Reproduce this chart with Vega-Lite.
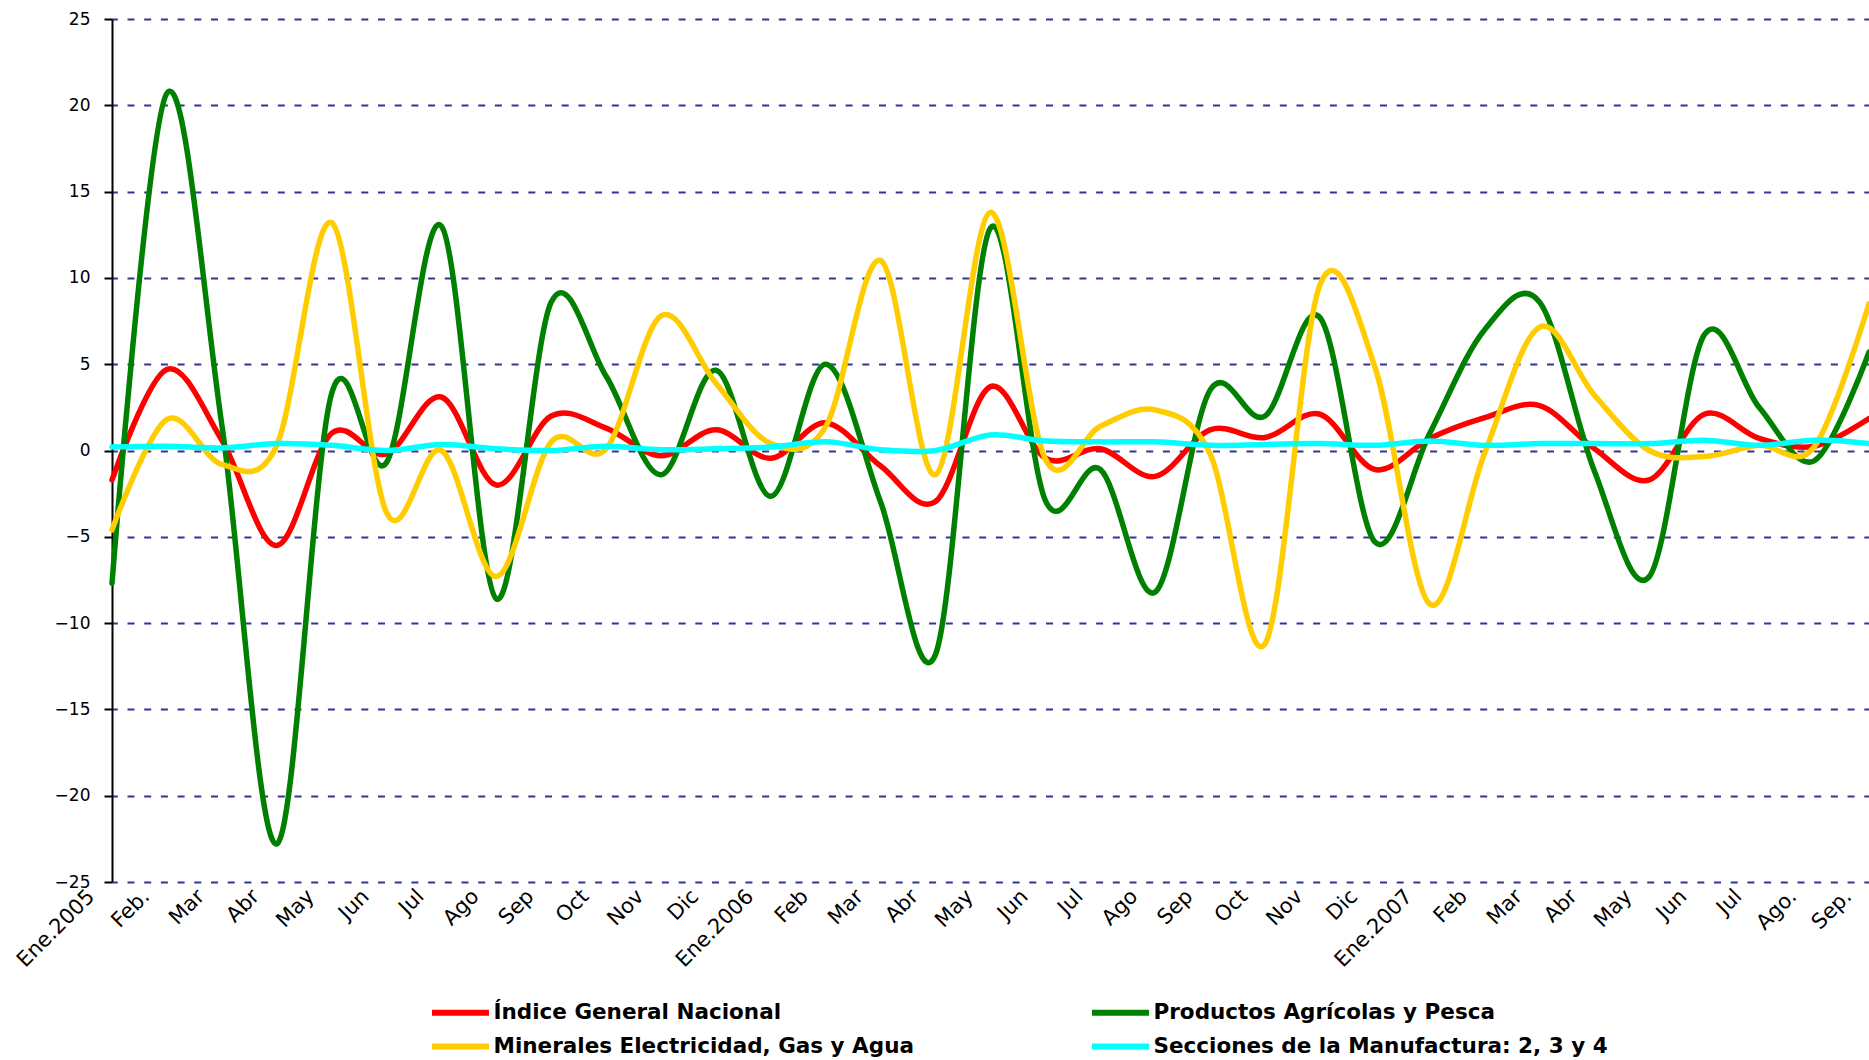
{
 "$schema": "https://vega.github.io/schema/vega-lite/v6.json",
 "width": 1757,
 "height": 863,
 "autosize": {"type": "none"},
 "padding": {"left": 112, "top": 19, "right": 0, "bottom": 178},
 "background": "white",
 "config": {"view": {"stroke": null}, "font": "DejaVu Sans"},
 "data": {"values": [
  {"mes":"Ene.2005","serie":"Índice General Nacional","valor":-1.7},
  {"mes":"Feb. 2005","serie":"Índice General Nacional","valor":4.7},
  {"mes":"Mar 2005","serie":"Índice General Nacional","valor":0.6},
  {"mes":"Abr 2005","serie":"Índice General Nacional","valor":-5.5},
  {"mes":"May 2005","serie":"Índice General Nacional","valor":1.0},
  {"mes":"Jun 2005","serie":"Índice General Nacional","valor":-0.2},
  {"mes":"Jul 2005","serie":"Índice General Nacional","valor":3.1},
  {"mes":"Ago 2005","serie":"Índice General Nacional","valor":-2.0},
  {"mes":"Sep 2005","serie":"Índice General Nacional","valor":2.0},
  {"mes":"Oct 2005","serie":"Índice General Nacional","valor":1.3},
  {"mes":"Nov 2005","serie":"Índice General Nacional","valor":-0.3},
  {"mes":"Dic 2005","serie":"Índice General Nacional","valor":1.2},
  {"mes":"Ene.2006","serie":"Índice General Nacional","valor":-0.45},
  {"mes":"Feb 2006","serie":"Índice General Nacional","valor":1.6},
  {"mes":"Mar 2006","serie":"Índice General Nacional","valor":-0.9},
  {"mes":"Abr 2006","serie":"Índice General Nacional","valor":-2.95},
  {"mes":"May 2006","serie":"Índice General Nacional","valor":3.7},
  {"mes":"Jun 2006","serie":"Índice General Nacional","valor":-0.45},
  {"mes":"Jul 2006","serie":"Índice General Nacional","valor":0.1},
  {"mes":"Ago 2006","serie":"Índice General Nacional","valor":-1.5},
  {"mes":"Sep 2006","serie":"Índice General Nacional","valor":1.2},
  {"mes":"Oct 2006","serie":"Índice General Nacional","valor":0.75},
  {"mes":"Nov 2006","serie":"Índice General Nacional","valor":2.1},
  {"mes":"Dic 2006","serie":"Índice General Nacional","valor":-1.1},
  {"mes":"Ene.2007","serie":"Índice General Nacional","valor":0.7},
  {"mes":"Feb 2007","serie":"Índice General Nacional","valor":1.9},
  {"mes":"Mar 2007","serie":"Índice General Nacional","valor":2.6},
  {"mes":"Abr 2007","serie":"Índice General Nacional","valor":0.1},
  {"mes":"May 2007","serie":"Índice General Nacional","valor":-1.7},
  {"mes":"Jun 2007","serie":"Índice General Nacional","valor":2.1},
  {"mes":"Jul 2007","serie":"Índice General Nacional","valor":0.7},
  {"mes":"Ago. 2007","serie":"Índice General Nacional","valor":0.25},
  {"mes":"Sep. 2007","serie":"Índice General Nacional","valor":1.85},
  {"mes":"Ene.2005","serie":"Productos Agrícolas y Pesca","valor":-7.7},
  {"mes":"Feb. 2005","serie":"Productos Agrícolas y Pesca","valor":20.7},
  {"mes":"Mar 2005","serie":"Productos Agrícolas y Pesca","valor":1.5},
  {"mes":"Abr 2005","serie":"Productos Agrícolas y Pesca","valor":-22.8},
  {"mes":"May 2005","serie":"Productos Agrícolas y Pesca","valor":3.3},
  {"mes":"Jun 2005","serie":"Productos Agrícolas y Pesca","valor":-0.7},
  {"mes":"Jul 2005","serie":"Productos Agrícolas y Pesca","valor":13.0},
  {"mes":"Ago 2005","serie":"Productos Agrícolas y Pesca","valor":-8.6},
  {"mes":"Sep 2005","serie":"Productos Agrícolas y Pesca","valor":8.6},
  {"mes":"Oct 2005","serie":"Productos Agrícolas y Pesca","valor":4.3},
  {"mes":"Nov 2005","serie":"Productos Agrícolas y Pesca","valor":-1.4},
  {"mes":"Dic 2005","serie":"Productos Agrícolas y Pesca","valor":4.65},
  {"mes":"Ene.2006","serie":"Productos Agrícolas y Pesca","valor":-2.65},
  {"mes":"Feb 2006","serie":"Productos Agrícolas y Pesca","valor":5.0},
  {"mes":"Mar 2006","serie":"Productos Agrícolas y Pesca","valor":-3.0},
  {"mes":"Abr 2006","serie":"Productos Agrícolas y Pesca","valor":-11.8},
  {"mes":"May 2006","serie":"Productos Agrícolas y Pesca","valor":12.9},
  {"mes":"Jun 2006","serie":"Productos Agrícolas y Pesca","valor":-2.9},
  {"mes":"Jul 2006","serie":"Productos Agrícolas y Pesca","valor":-1.1},
  {"mes":"Ago 2006","serie":"Productos Agrícolas y Pesca","valor":-8.2},
  {"mes":"Sep 2006","serie":"Productos Agrícolas y Pesca","valor":3.5},
  {"mes":"Oct 2006","serie":"Productos Agrícolas y Pesca","valor":2.0},
  {"mes":"Nov 2006","serie":"Productos Agrícolas y Pesca","valor":7.7},
  {"mes":"Dic 2006","serie":"Productos Agrícolas y Pesca","valor":-5.3},
  {"mes":"Ene.2007","serie":"Productos Agrícolas y Pesca","valor":1.0},
  {"mes":"Feb 2007","serie":"Productos Agrícolas y Pesca","valor":7.0},
  {"mes":"Mar 2007","serie":"Productos Agrícolas y Pesca","valor":8.6},
  {"mes":"Abr 2007","serie":"Productos Agrícolas y Pesca","valor":-1.2},
  {"mes":"May 2007","serie":"Productos Agrícolas y Pesca","valor":-7.3},
  {"mes":"Jun 2007","serie":"Productos Agrícolas y Pesca","valor":6.7},
  {"mes":"Jul 2007","serie":"Productos Agrícolas y Pesca","valor":2.5},
  {"mes":"Ago. 2007","serie":"Productos Agrícolas y Pesca","valor":-0.6},
  {"mes":"Sep. 2007","serie":"Productos Agrícolas y Pesca","valor":5.7},
  {"mes":"Ene.2005","serie":"Minerales Electricidad, Gas y Agua","valor":-4.6},
  {"mes":"Feb. 2005","serie":"Minerales Electricidad, Gas y Agua","valor":1.8},
  {"mes":"Mar 2005","serie":"Minerales Electricidad, Gas y Agua","valor":-0.8},
  {"mes":"Abr 2005","serie":"Minerales Electricidad, Gas y Agua","valor":0.3},
  {"mes":"May 2005","serie":"Minerales Electricidad, Gas y Agua","valor":13.2},
  {"mes":"Jun 2005","serie":"Minerales Electricidad, Gas y Agua","valor":-3.6},
  {"mes":"Jul 2005","serie":"Minerales Electricidad, Gas y Agua","valor":0.0},
  {"mes":"Ago 2005","serie":"Minerales Electricidad, Gas y Agua","valor":-7.3},
  {"mes":"Sep 2005","serie":"Minerales Electricidad, Gas y Agua","valor":0.5},
  {"mes":"Oct 2005","serie":"Minerales Electricidad, Gas y Agua","valor":0.1},
  {"mes":"Nov 2005","serie":"Minerales Electricidad, Gas y Agua","valor":7.8},
  {"mes":"Dic 2005","serie":"Minerales Electricidad, Gas y Agua","valor":3.9},
  {"mes":"Ene.2006","serie":"Minerales Electricidad, Gas y Agua","valor":0.4},
  {"mes":"Feb 2006","serie":"Minerales Electricidad, Gas y Agua","valor":1.4},
  {"mes":"Mar 2006","serie":"Minerales Electricidad, Gas y Agua","valor":11.0},
  {"mes":"Abr 2006","serie":"Minerales Electricidad, Gas y Agua","valor":-1.4},
  {"mes":"May 2006","serie":"Minerales Electricidad, Gas y Agua","valor":13.8},
  {"mes":"Jun 2006","serie":"Minerales Electricidad, Gas y Agua","valor":-0.5},
  {"mes":"Jul 2006","serie":"Minerales Electricidad, Gas y Agua","valor":1.4},
  {"mes":"Ago 2006","serie":"Minerales Electricidad, Gas y Agua","valor":2.35},
  {"mes":"Sep 2006","serie":"Minerales Electricidad, Gas y Agua","valor":-0.2},
  {"mes":"Oct 2006","serie":"Minerales Electricidad, Gas y Agua","valor":-11.2},
  {"mes":"Nov 2006","serie":"Minerales Electricidad, Gas y Agua","valor":9.6},
  {"mes":"Dic 2006","serie":"Minerales Electricidad, Gas y Agua","valor":4.85},
  {"mes":"Ene.2007","serie":"Minerales Electricidad, Gas y Agua","valor":-8.9},
  {"mes":"Feb 2007","serie":"Minerales Electricidad, Gas y Agua","valor":-0.15},
  {"mes":"Mar 2007","serie":"Minerales Electricidad, Gas y Agua","valor":7.15},
  {"mes":"Abr 2007","serie":"Minerales Electricidad, Gas y Agua","valor":3.2},
  {"mes":"May 2007","serie":"Minerales Electricidad, Gas y Agua","valor":0.0},
  {"mes":"Jun 2007","serie":"Minerales Electricidad, Gas y Agua","valor":-0.35},
  {"mes":"Jul 2007","serie":"Minerales Electricidad, Gas y Agua","valor":0.3},
  {"mes":"Ago. 2007","serie":"Minerales Electricidad, Gas y Agua","valor":0.2},
  {"mes":"Sep. 2007","serie":"Minerales Electricidad, Gas y Agua","valor":8.5},
  {"mes":"Ene.2005","serie":"Secciones de la Manufactura: 2, 3 y 4","valor":0.2},
  {"mes":"Feb. 2005","serie":"Secciones de la Manufactura: 2, 3 y 4","valor":0.25},
  {"mes":"Mar 2005","serie":"Secciones de la Manufactura: 2, 3 y 4","valor":0.15},
  {"mes":"Abr 2005","serie":"Secciones de la Manufactura: 2, 3 y 4","valor":0.4},
  {"mes":"May 2005","serie":"Secciones de la Manufactura: 2, 3 y 4","valor":0.3},
  {"mes":"Jun 2005","serie":"Secciones de la Manufactura: 2, 3 y 4","valor":0.0},
  {"mes":"Jul 2005","serie":"Secciones de la Manufactura: 2, 3 y 4","valor":0.35},
  {"mes":"Ago 2005","serie":"Secciones de la Manufactura: 2, 3 y 4","valor":0.1},
  {"mes":"Sep 2005","serie":"Secciones de la Manufactura: 2, 3 y 4","valor":0.0},
  {"mes":"Oct 2005","serie":"Secciones de la Manufactura: 2, 3 y 4","valor":0.25},
  {"mes":"Nov 2005","serie":"Secciones de la Manufactura: 2, 3 y 4","valor":0.05},
  {"mes":"Dic 2005","serie":"Secciones de la Manufactura: 2, 3 y 4","valor":0.1},
  {"mes":"Ene.2006","serie":"Secciones de la Manufactura: 2, 3 y 4","valor":0.2},
  {"mes":"Feb 2006","serie":"Secciones de la Manufactura: 2, 3 y 4","valor":0.5},
  {"mes":"Mar 2006","serie":"Secciones de la Manufactura: 2, 3 y 4","valor":0.05},
  {"mes":"Abr 2006","serie":"Secciones de la Manufactura: 2, 3 y 4","valor":0.0},
  {"mes":"May 2006","serie":"Secciones de la Manufactura: 2, 3 y 4","valor":0.9},
  {"mes":"Jun 2006","serie":"Secciones de la Manufactura: 2, 3 y 4","valor":0.55},
  {"mes":"Jul 2006","serie":"Secciones de la Manufactura: 2, 3 y 4","valor":0.5},
  {"mes":"Ago 2006","serie":"Secciones de la Manufactura: 2, 3 y 4","valor":0.5},
  {"mes":"Sep 2006","serie":"Secciones de la Manufactura: 2, 3 y 4","valor":0.3},
  {"mes":"Oct 2006","serie":"Secciones de la Manufactura: 2, 3 y 4","valor":0.35},
  {"mes":"Nov 2006","serie":"Secciones de la Manufactura: 2, 3 y 4","valor":0.4},
  {"mes":"Dic 2006","serie":"Secciones de la Manufactura: 2, 3 y 4","valor":0.3},
  {"mes":"Ene.2007","serie":"Secciones de la Manufactura: 2, 3 y 4","valor":0.55},
  {"mes":"Feb 2007","serie":"Secciones de la Manufactura: 2, 3 y 4","valor":0.3},
  {"mes":"Mar 2007","serie":"Secciones de la Manufactura: 2, 3 y 4","valor":0.4},
  {"mes":"Abr 2007","serie":"Secciones de la Manufactura: 2, 3 y 4","valor":0.4},
  {"mes":"May 2007","serie":"Secciones de la Manufactura: 2, 3 y 4","valor":0.4},
  {"mes":"Jun 2007","serie":"Secciones de la Manufactura: 2, 3 y 4","valor":0.6},
  {"mes":"Jul 2007","serie":"Secciones de la Manufactura: 2, 3 y 4","valor":0.3},
  {"mes":"Ago. 2007","serie":"Secciones de la Manufactura: 2, 3 y 4","valor":0.6},
  {"mes":"Sep. 2007","serie":"Secciones de la Manufactura: 2, 3 y 4","valor":0.4}
 ]},
 "mark": {"type": "line", "interpolate": "cardinal", "strokeWidth": 5.5, "strokeCap": "round", "strokeJoin": "round"},
 "encoding": {
  "x": {
   "field": "mes", "type": "ordinal", "sort": null,
   "scale": {"type": "point", "padding": 0},
   "axis": {
    "title": null, "domain": false, "ticks": false, "grid": false,
    "labelAngle": -45, "labelAlign": "right", "labelBaseline": "middle",
    "labelFontSize": 21, "labelColor": "black", "labelFont": "DejaVu Sans",
    "labelPadding": 11, "labelOffset": -21, "labelOverlap": false, "labelBound": false,
    "labelExpr": "split(datum.value, ' ')[0]"
   }
  },
  "y": {
   "field": "valor", "type": "quantitative",
   "scale": {"domain": [-25, 25], "nice": false, "zero": false},
   "axis": {
    "title": null, "values": [-25, -20, -15, -10, -5, 0, 5, 10, 15, 20, 25],
    "domainColor": "black", "domainWidth": 2,
    "tickColor": "black", "tickWidth": 2, "tickSize": 8,
    "labelFontSize": 17, "labelColor": "black", "labelFont": "DejaVu Sans", "labelPadding": 14,
    "grid": true, "gridColor": "#333399", "gridWidth": 2, "gridDash": [7, 9.7], "gridDashOffset": 1.7, "gridOpacity": 1
   }
  },
  "color": {
   "field": "serie", "type": "nominal",
   "scale": {
    "domain": ["Índice General Nacional", "Productos Agrícolas y Pesca", "Minerales Electricidad, Gas y Agua", "Secciones de la Manufactura: 2, 3 y 4"],
    "range": ["#FF0000", "#008000", "#FFCC00", "#00FFFF"]
   },
   "legend": {
    "orient": "none", "legendX": 331, "legendY": 976, "columns": 2, "direction": "horizontal",
    "title": null, "padding": 0,
    "symbolType": "M-2,0H2", "symbolSize": 812, "symbolStrokeWidth": 6,
    "labelFontSize": 21.5, "labelFontWeight": "bold", "labelFont": "DejaVu Sans", "labelColor": "black",
    "labelOffset": 15.5, "labelLimit": 800, "columnPadding": 166, "rowPadding": 4
   }
  }
 }
}
